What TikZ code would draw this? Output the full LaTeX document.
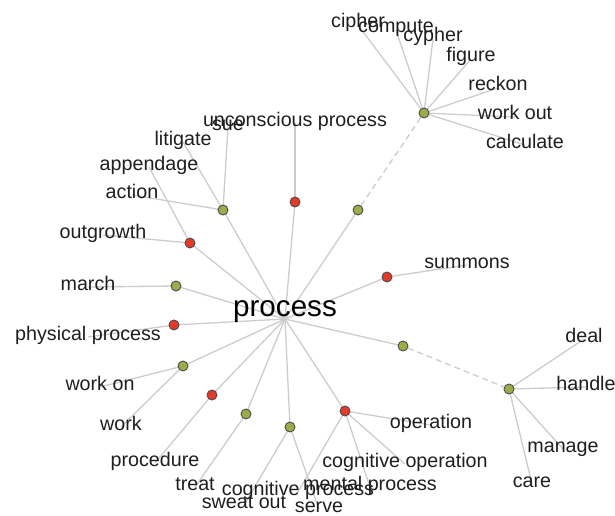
\documentclass[tikz,border=0pt]{standalone}
\usepackage{fontspec}
\setmainfont{Liberation Sans}
\pgfdeclarelayer{background}
\pgfsetlayers{background,main}
\definecolor{dotgreen}{RGB}{155,172,72}
\definecolor{dotred}{RGB}{228,58,40}
\definecolor{linkgray}{RGB}{204,204,204}
\definecolor{ink}{RGB}{30,30,30}
\tikzset{
  lbl/.style={font=\fontsize{19.7}{22}\selectfont, text=ink, anchor=base, inner sep=0pt},
  hubtext/.style={font=\fontsize{29.6}{33}\selectfont, text=black, anchor=base, inner sep=0pt},
  sense/.style={circle, draw=black!70, line width=0.9pt, minimum size=10pt, inner sep=0pt},
  verbsense/.style={sense, fill=dotgreen},
  nounsense/.style={sense, fill=dotred},
  link/.style={draw=linkgray, line width=1.3pt},
  weaklink/.style={link, dash pattern=on 6pt off 4pt}
}
\begin{document}
\begin{tikzpicture}[x=1pt,y=-1pt]
\useasboundingbox (0,0) rectangle (615,516);

% central word
\node[hubtext] (process) at (285,316) {process};

% sense nodes
\node[verbsense] (dcalc)    at (424,113) {};
\node[nounsense] (duncon)   at (295,202) {};
\node[verbsense] (dverb)    at (358,210) {};
\node[verbsense] (daction)  at (223,210) {};
\node[nounsense] (doutgr)   at (190,243) {};
\node[verbsense] (dmarch)   at (176,286) {};
\node[nounsense] (dphys)    at (174,325) {};
\node[nounsense] (dsumm)    at (387,277) {};
\node[verbsense] (droutine) at (403,346) {};
\node[verbsense] (dhandle)  at (509,389) {};
\node[verbsense] (dwork)    at (183,366) {};
\node[nounsense] (dproc)    at (212,395) {};
\node[verbsense] (dtreat)   at (246,414) {};
\node[verbsense] (dserve)   at (290,427) {};
\node[nounsense] (dcog)     at (345,411) {};

% word labels
\node[lbl] (cipher)    at (358,28)  {cipher};
\node[lbl] (compute)   at (396,33)  {compute};
\node[lbl] (cypher)    at (433,42)  {cypher};
\node[lbl] (figure)    at (471,62)  {figure};
\node[lbl] (reckon)    at (498,91)  {reckon};
\node[lbl] (workout)   at (515,120) {work out};
\node[lbl] (calculate) at (525,148) {calculate};
\node[lbl] (uncon)     at (295,126) {unconscious process};
\node[lbl] (sue)       at (228,130) {sue};
\node[lbl] (litigate)  at (183,145) {litigate};
\node[lbl] (appendage) at (149,170) {appendage};
\node[lbl] (action)    at (132,198) {action};
\node[lbl] (outgrowth) at (103,238) {outgrowth};
\node[lbl] (march)     at (88,290)  {march};
\node[lbl] (physical)  at (88,340)  {physical process};
\node[lbl] (workon)    at (100,390) {work on};
\node[lbl] (work)      at (121,430) {work};
\node[lbl] (procedure) at (155,466) {procedure};
\node[lbl] (treat)     at (195,490) {treat};
\node[lbl] (sweatout)  at (244,508) {sweat out};
\node[lbl] (cogproc)   at (298,495) {cognitive process};
\node[lbl] (serve)     at (319,512) {serve};
\node[lbl] (mental)    at (370,490) {mental process};
\node[lbl] (cogop)     at (405,467) {cognitive operation};
\node[lbl] (operation) at (431,428) {operation};
\node[lbl] (summons)   at (467,268) {summons};
\node[lbl] (deal)      at (584,342) {deal};
\node[lbl] (handle)    at (586,390) {handle};
\node[lbl] (manage)    at (563,452) {manage};
\node[lbl] (care)      at (532,487) {care};

% connectors, kept beneath text and dots
\begin{pgfonlayer}{background}
  \foreach \s in {duncon,dverb,daction,doutgr,dmarch,dphys,dsumm,droutine,dwork,dproc,dtreat,dserve,dcog}
    \draw[link] ([yshift=-3pt]process.base) -- (\s.center);
  \draw[weaklink] (dverb) -- (dcalc);
  \draw[weaklink] (droutine) -- (dhandle);
  \foreach \s/\w in {dcalc/cipher,dcalc/compute,dcalc/cypher,dcalc/figure,dcalc/reckon,
                     dcalc/workout,dcalc/calculate,duncon/uncon,daction/sue,daction/litigate,
                     daction/action,doutgr/appendage,doutgr/outgrowth,dmarch/march,
                     dphys/physical,dwork/workon,dwork/work,dproc/procedure,dtreat/treat,
                     dserve/sweatout,dserve/serve,dcog/cogproc,dcog/mental,dcog/cogop,
                     dcog/operation,dsumm/summons,dhandle/deal,dhandle/handle,
                     dhandle/manage,dhandle/care}
    \draw[link] (\s.center) -- ([yshift=3pt]\w.base);
\end{pgfonlayer}
\end{tikzpicture}
\end{document}
